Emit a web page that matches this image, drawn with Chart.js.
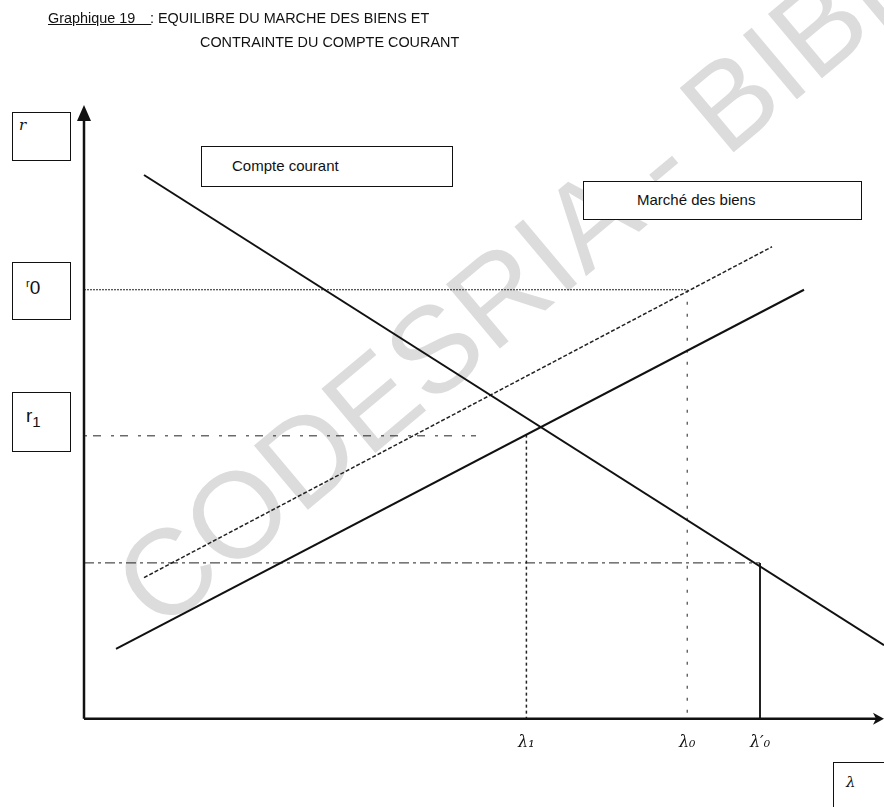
<!DOCTYPE html>
<html lang="fr">
<head>
<meta charset="utf-8">
<title>Graphique 19</title>
<script src="https://cdn.jsdelivr.net/npm/chart.js@4.4.1/dist/chart.umd.min.js"></script>
<style>
  body { margin: 0; background: #fff; }
  #page { position: relative; width: 884px; height: 807px; overflow: hidden; font-family: "Liberation Sans Narrow", "Arial Narrow", "Liberation Sans", sans-serif; color: #111; }
  #graphique { position: absolute; left: 0; top: 0; z-index: 2; }
  .filigrane { position: absolute; left: 88px; top: 548px; z-index: 1; font-family: "Liberation Sans", Arial, sans-serif; font-size: 122px; color: #dcdcdc; white-space: nowrap; transform-origin: 0 0; transform: rotate(-40deg); }
  .titre { position: absolute; font-size: 15px; white-space: nowrap; z-index: 3; transform-origin: 0 0; transform: scaleX(0.96); }
  .boite { position: absolute; border: 1.5px solid #111; background: #fff; z-index: 3; box-sizing: border-box; white-space: nowrap; }
  .sym { font-family: "DejaVu Serif", serif; font-style: italic; font-size: 15px; }
</style>
</head>
<body>
<div id="page">
  <div class="filigrane">CODESRIA - BIBLIOTHEQUE</div>
  <canvas id="graphique" width="884" height="807"></canvas>

  <!-- Titre -->
  <div class="titre" style="left:48px; top:9px;"><span style="text-decoration:underline;">Graphique 19&nbsp;&nbsp;&nbsp;&nbsp;</span></div>
  <div class="titre" style="left:150px; top:9px;">: EQUILIBRE DU MARCHE DES BIENS ET</div>
  <div class="titre" style="left:200px; top:33px;">CONTRAINTE DU COMPTE COURANT</div>

  <!-- Etiquettes des axes -->
  <div class="boite" style="left:12px; top:112px; width:59px; height:49px;"><span class="sym" style="position:absolute; left:6px; top:3px;">r</span></div>
  <div class="boite" style="left:12px; top:262px; width:59px; height:58px;"><span style="position:absolute; left:13px; top:14px; font-size:19px;"><span style="font-size:11px; vertical-align:7px;">r</span>0</span></div>
  <div class="boite" style="left:12px; top:392px; width:59px; height:60px;"><span style="position:absolute; left:13px; top:12px; font-size:19px;">r<span style="font-size:15px; vertical-align:-5px;">1</span></span></div>
  <div class="boite" style="left:833px; top:762px; width:60px; height:50px;"><span class="sym" style="position:absolute; left:12px; top:10px;">λ</span></div>

  <!-- Légendes des courbes -->
  <div class="boite" style="left:201px; top:146px; width:252px; height:41px; font-size:15px;"><span style="position:absolute; left:30px; top:10px;">Compte courant</span></div>
  <div class="boite" style="left:583px; top:181px; width:279px; height:39px; font-size:15px;"><span style="position:absolute; left:53px; top:9px;">Marché des biens</span></div>
</div>

<script>
// Compte courant (droite décroissante)
const compteX = [7.5, 100];
const compteY = [88.6, 12.0];

// Marché des biens (droite pleine)
const biensX = [4, 90];
const biensY = [11.4, 69.9];

// Marché des biens déplacé (pointillés)
const biensBisX = [7.5, 86];
const biensBisY = [23.0, 76.9];

// Niveaux du taux r et valeurs de lambda
const niveauxR = [69.9, 46.1, 25.4]; // r0, r1, r bas
const lambdaValeurs = [55.3, 75.4, 84.5];
const lambdaLabels = ["λ₁", "λ₀", "λ′₀"];
const finR1 = 49; // fin du tireté horizontal r1

const points = (xs, ys) => xs.map((x, i) => ({ x: x, y: ys[i] }));

// Trace les axes avec leurs flèches
const flechesAxes = {
  id: "flechesAxes",
  afterDraw(chart) {
    const c = chart.ctx;
    const x0 = chart.scales.x.getPixelForValue(0);
    const y0 = chart.scales.y.getPixelForValue(0);
    const yTop = chart.scales.y.getPixelForValue(100);
    const xEnd = chart.scales.x.getPixelForValue(100);
    c.save();
    c.strokeStyle = "#111";
    c.fillStyle = "#111";
    c.lineWidth = 2.5;
    c.beginPath();
    c.moveTo(x0, y0);
    c.lineTo(x0, yTop + 12);
    c.moveTo(x0, y0);
    c.lineTo(xEnd - 8, y0);
    c.stroke();
    // flèche verticale
    c.beginPath();
    c.moveTo(x0, yTop);
    c.lineTo(x0 - 7, yTop + 16);
    c.lineTo(x0 + 7, yTop + 16);
    c.closePath();
    c.fill();
    // flèche horizontale
    c.beginPath();
    c.moveTo(xEnd, y0);
    c.lineTo(xEnd - 11, y0 - 6);
    c.lineTo(xEnd - 8, y0);
    c.lineTo(xEnd - 11, y0 + 6);
    c.closePath();
    c.fill();
    c.restore();
  },
};

const guide = (data, dash, width) => ({
  data: data,
  borderColor: "#222",
  borderWidth: width || 1,
  borderDash: dash,
  showLine: true,
  pointRadius: 0,
  fill: false,
});

const biensY_l1 = biensY[0] + (lambdaValeurs[0] - biensX[0]) * (biensY[1] - biensY[0]) / (biensX[1] - biensX[0]);

new Chart(document.getElementById("graphique"), {
  type: "scatter",
  data: {
    datasets: [
      { label: "Compte courant", data: points(compteX, compteY), borderColor: "#111", borderWidth: 2, showLine: true, pointRadius: 0 },
      { label: "Marché des biens", data: points(biensX, biensY), borderColor: "#111", borderWidth: 2, showLine: true, pointRadius: 0 },
      { label: "Marché des biens (bis)", data: points(biensBisX, biensBisY), borderColor: "#222", borderWidth: 1.5, borderDash: [4, 2], showLine: true, pointRadius: 0 },
      guide([{ x: 0, y: niveauxR[0] }, { x: lambdaValeurs[1], y: niveauxR[0] }], [2, 1]),
      guide([{ x: lambdaValeurs[1], y: niveauxR[0] }, { x: lambdaValeurs[1], y: 0 }], [3, 9]),
      guide([{ x: 0, y: niveauxR[1] }, { x: finR1, y: niveauxR[1] }], [3, 6, 8, 10]),
      guide([{ x: lambdaValeurs[0], y: biensY_l1 }, { x: lambdaValeurs[0], y: 0 }], [3, 3], 1.5),
      guide([{ x: 0, y: niveauxR[2] }, { x: lambdaValeurs[2], y: niveauxR[2] }], [10, 4, 3, 4]),
      guide([{ x: lambdaValeurs[2], y: niveauxR[2] }, { x: lambdaValeurs[2], y: 0 }], [], 2),
    ],
  },
  options: {
    responsive: false,
    animation: false,
    layout: { padding: { left: 84, right: 0, top: 105, bottom: 41 } },
    plugins: {
      legend: { display: false },
      tooltip: { enabled: false },
    },
    scales: {
      x: {
        type: "linear",
        min: 0,
        max: 100,
        grid: { display: false, drawTicks: false },
        border: { display: false },
        afterBuildTicks: (axis) => {
          axis.ticks = lambdaValeurs.map((v) => ({ value: v }));
        },
        ticks: {
          autoSkip: false,
          maxRotation: 0,
          padding: 14,
          color: "#111",
          font: { family: "DejaVu Serif", style: "italic", size: 16 },
          callback: (value) => lambdaLabels[lambdaValeurs.indexOf(value)] || "",
        },
      },
      y: { type: "linear", min: 0, max: 100, display: false },
    },
  },
  plugins: [flechesAxes],
});
</script>
</body>
</html>
